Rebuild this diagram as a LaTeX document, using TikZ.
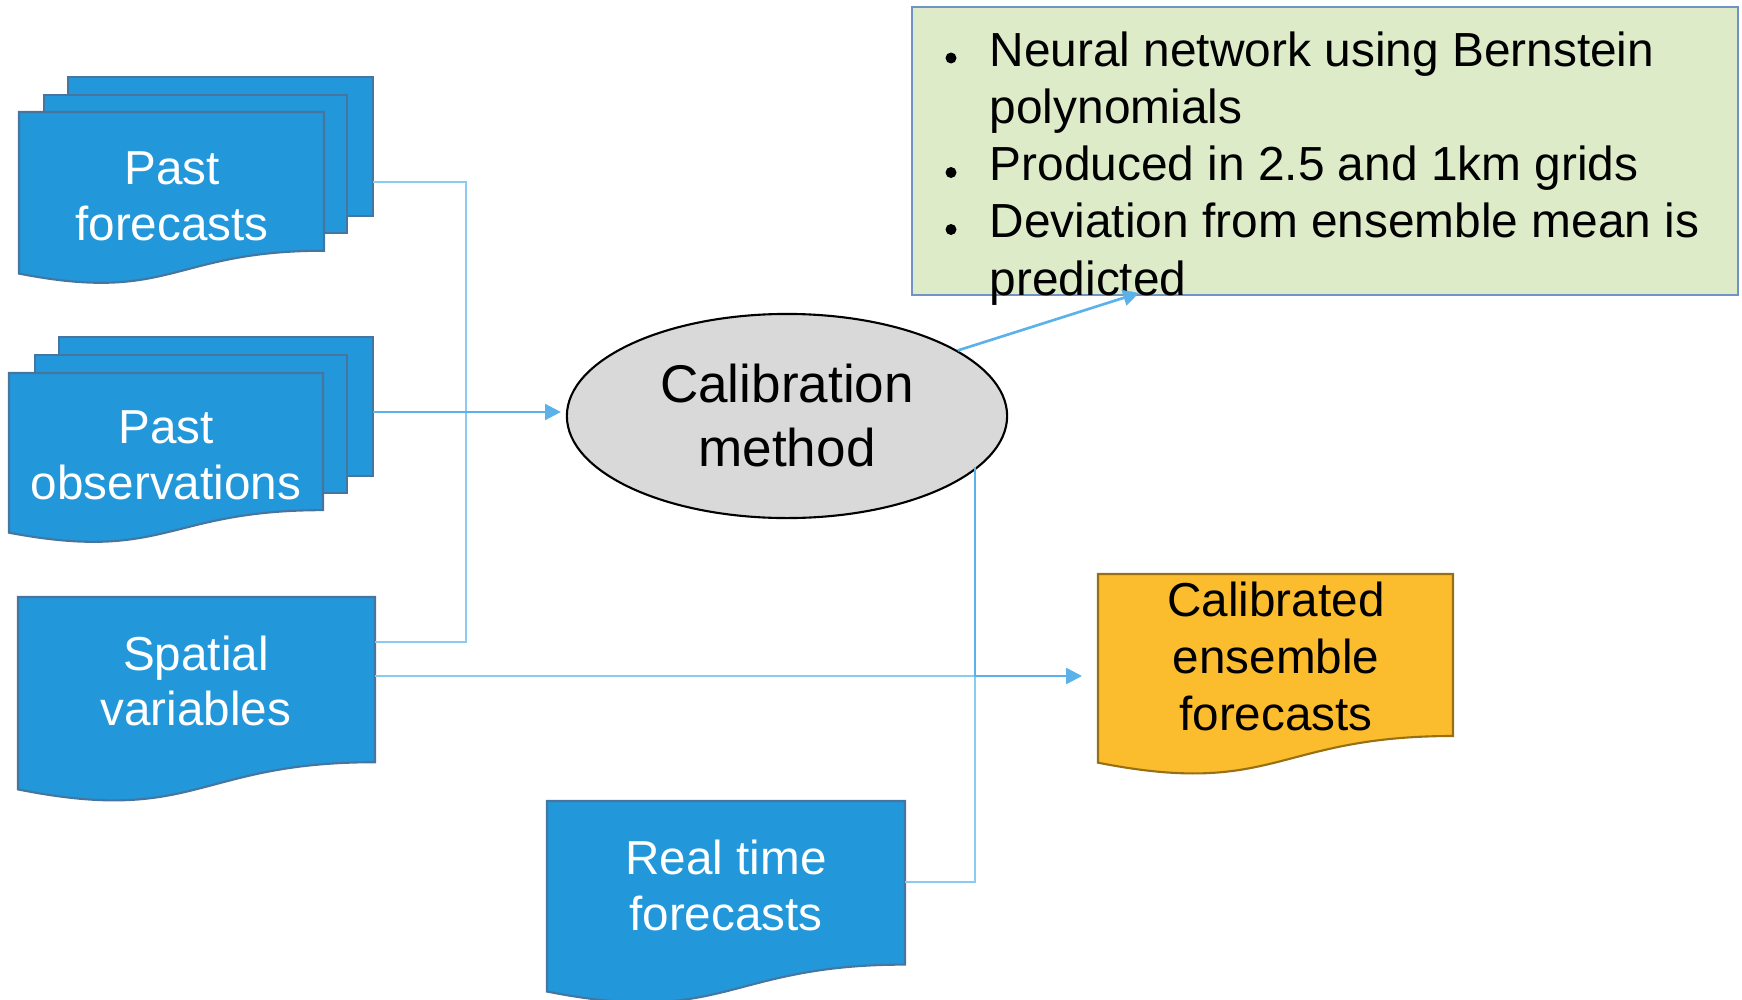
\documentclass[tikz,border=0pt]{standalone}
\usepackage{fontspec}
\setmainfont{Liberation Sans}
\usetikzlibrary{positioning,shapes.geometric,arrows.meta,calc}
\definecolor{docblue}{RGB}{34,151,218}
\definecolor{docedge}{RGB}{70,118,160}
\definecolor{linkblue}{RGB}{91,178,234}
\definecolor{elbowblue}{RGB}{138,203,242}
\definecolor{notegreen}{RGB}{222,235,201}
\definecolor{noteedge}{RGB}{112,146,196}
\definecolor{outorange}{RGB}{251,188,45}
\definecolor{outedge}{RGB}{152,112,20}
\definecolor{calibgray}{RGB}{217,217,217}
\tikzstyle{sheet}=[draw=docedge,fill=docblue,line width=0.6pt]
\tikzstyle{outsheet}=[sheet,draw=outedge,fill=outorange]
\tikzstyle{doclabel}=[align=center,inner sep=0pt,text=white,font=\fontsize{13.55}{15.9}\selectfont]
\tikzstyle{outlabel}=[doclabel,text=black,font=\fontsize{13.55}{16.2}\selectfont]
\tikzstyle{method}=[ellipse,draw=black,fill=calibgray,line width=0.6pt,minimum width=4.4cm,minimum height=2.04cm,align=center,inner sep=0pt,font=\fontsize{15.1}{18.2}\selectfont]
\tikzstyle{note}=[rectangle,draw=noteedge,fill=notegreen,line width=0.5pt,minimum width=8.26cm,minimum height=2.88cm,inner sep=0pt]
\tikzstyle{noteline}=[anchor=base west,inner sep=0pt,font=\fontsize{13.6}{16.2}\selectfont]
\tikzstyle{link}=[draw=linkblue,line width=0.75pt,-{Triangle[length=4.5pt,width=4.5pt]}]
\tikzstyle{elbow}=[draw=elbowblue,line width=0.4pt]

% document sheet with wavy bottom: style, x, y, width, height
\newcommand{\docsheet}[5]{%
  \path[#1] (#2,#3) -- (#2+#4,#3) -- (#2+#4,#3+0.802*#5)
    .. controls (#2+0.5*#4,#3+0.802*#5) and (#2+0.5*#4,#3+1.1075*#5) .. (#2,#3+0.934*#5) -- cycle;}

\begin{document}
\begin{tikzpicture}[x=0.01cm,y=-0.01cm]
  \useasboundingbox (0,0) rectangle (1742,1000);

  % stacked sheets behind the past inputs
  \foreach \x/\y/\w/\h in {68/77/305/139, 44/95/303/138, 59/337/314/139, 35/355/312/138}
    \path[sheet] (\x,\y) rectangle ++(\w,\h);

  \docsheet{sheet}{19}{112}{305}{173}
  \docsheet{sheet}{9}{373}{314}{171}
  \docsheet{sheet}{18}{597}{357}{206}
  \docsheet{sheet}{547}{801}{358}{204}
  \docsheet{outsheet}{1098}{574}{355}{202}

  \node[doclabel] (pastfc) at (172,196) {Past\\forecasts};
  \node[doclabel] (pastobs) at (166,455) {Past\\observations};
  \node[doclabel] (spatial) at (196,681) {Spatial\\variables};
  \node[doclabel] (realtime) at (726,885) {Real time\\forecasts};
  \node[outlabel] (calibrated) at (1276,656) {Calibrated\\ensemble\\forecasts};

  \node[method] (calib) at (787,416) {Calibration\\method};

  % notes on the method
  \node[note] (note) at (1325,151) {};
  \foreach \i/\y/\txt in {1/66/Neural network using Bernstein, 2/123/polynomials,
                          3/180.5/Produced in 2.5 and 1km grids,
                          4/237.5/Deviation from ensemble mean is, 5/295/predicted}
    \node[noteline] (line\i) at (989,\y) {\txt};
  \foreach \y in {66,180.5,237.5}
    \fill (951,\y-8) circle (5.5);

  % connector ends
  \coordinate (pfout) at (373,182);
  \coordinate (poout) at (373,412);
  \coordinate (merge) at (466,412);
  \coordinate (svtop) at (375,642);
  \coordinate (svout) at (375,676);
  \coordinate (rtout) at (905,882);
  \coordinate (join) at (975,676);
  \coordinate (noteend) at (1139,293);
  \coordinate (outin) at (1082,676);

  \draw[elbow] (pfout) -| (merge) |- (svtop);
  \draw[elbow] (svout) -- (join);
  \draw[elbow] (rtout) -| (join);
  \draw[link,shorten >=1.4pt] (poout) -- (poout -| calib.west);
  \draw[link] (calib.-15.7 -| join) |- (outin);
  \draw[link] (calib.21.4) -- (noteend);
\end{tikzpicture}
\end{document}
